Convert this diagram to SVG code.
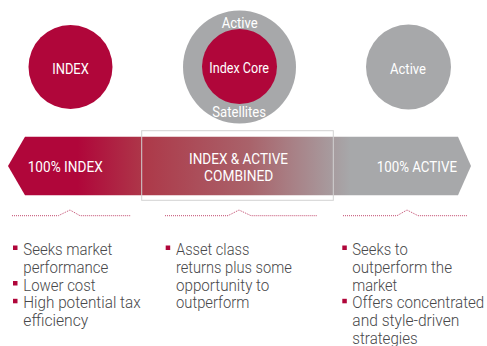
<svg xmlns="http://www.w3.org/2000/svg" width="487" height="346" viewBox="0 0 487 346">
<defs>
<linearGradient id="band" x1="8" y1="0" x2="471" y2="0" gradientUnits="userSpaceOnUse">
<stop offset="0" stop-color="#B0063A"/>
<stop offset="0.15" stop-color="#B0063A"/>
<stop offset="0.3" stop-color="#AD3A4A"/>
<stop offset="0.52" stop-color="#A9626A"/>
<stop offset="0.74" stop-color="#A7A8AA"/>
<stop offset="1" stop-color="#A7A8AA"/>
</linearGradient>
<style>
.red{fill:#B0063A}
.gray{fill:#A7A8AA}
.lbl{font-family:Roboto,"Liberation Sans",sans-serif;fill:#ffffff}
.body{font-family:Roboto,"Liberation Sans",sans-serif;font-size:16.5px;font-weight:300;fill:#48484A}
.dot{fill:none;stroke:#C24A6E;stroke-width:1;stroke-dasharray:1 1}
.sq{fill:#B0063A}
</style>
</defs>

<g id="node-index">
<circle class="red" cx="70.5" cy="67" r="42"/>
<text class="lbl" x="70.5" y="74" font-size="15" text-anchor="middle" textLength="36.7" lengthAdjust="spacingAndGlyphs">INDEX</text>
</g>

<g id="node-core-satellite">
<circle class="gray" cx="239.5" cy="67" r="56.5"/>
<circle class="red" cx="239.5" cy="66.5" r="37.5"/>
<text class="lbl" x="239.7" y="28.3" font-size="14" text-anchor="middle" textLength="36" lengthAdjust="spacingAndGlyphs">Active</text>
<text class="lbl" x="239.2" y="73.3" font-size="14" text-anchor="middle" textLength="59.7" lengthAdjust="spacingAndGlyphs">Index Core</text>
<text class="lbl" x="239.2" y="117" font-size="14" text-anchor="middle" textLength="53.7" lengthAdjust="spacingAndGlyphs">Satellites</text>
</g>

<g id="node-active">
<circle class="gray" cx="408.5" cy="67" r="42.5"/>
<text class="lbl" x="408" y="74" font-size="15" text-anchor="middle" textLength="36" lengthAdjust="spacingAndGlyphs">Active</text>
</g>

<g id="band-spectrum">
<polygon points="8,166 25,136.7 458,136.7 471,166 458,195.3 25,195.3" fill="url(#band)"/>
<rect x="141.7" y="130.7" width="191.6" height="69.6" fill="none" stroke="#D2D2D2" stroke-width="1"/>
<text class="lbl" x="27.7" y="171.7" font-size="15" textLength="75" lengthAdjust="spacingAndGlyphs">100% INDEX</text>
<text class="lbl" x="238.5" y="164.3" font-size="15" text-anchor="middle" textLength="99" lengthAdjust="spacingAndGlyphs">INDEX &amp; ACTIVE</text>
<text class="lbl" x="238.7" y="180.7" font-size="15" text-anchor="middle" textLength="69.3" lengthAdjust="spacingAndGlyphs">COMBINED</text>
<text class="lbl" x="376.7" y="171.7" font-size="15" textLength="80.3" lengthAdjust="spacingAndGlyphs">100% ACTIVE</text>
</g>

<g id="connectors">
<polyline class="dot" points="12,215.7 58.3,215.7 70,210 80,215.7 131,215.7"/>
<polyline class="dot" points="165,215.7 228,215.7 239,210 251,215.7 317,215.7"/>
<polyline class="dot" points="343,215.7 397,215.7 407,210 418,215.7 467,215.7"/>
</g>

<g id="list-index">
<rect class="sq" x="13" y="245.5" width="4.5" height="4.5"/>
<rect class="sq" x="13" y="281" width="4.5" height="4.5"/>
<rect class="sq" x="13" y="298.8" width="4.5" height="4.5"/>
<text class="body" x="23.3" y="255" textLength="89" lengthAdjust="spacingAndGlyphs">Seeks market</text>
<text class="body" x="23.3" y="272.8" textLength="85" lengthAdjust="spacingAndGlyphs">performance</text>
<text class="body" x="23.3" y="290.6" textLength="72.3" lengthAdjust="spacingAndGlyphs">Lower cost</text>
<text class="body" x="23.3" y="308.4" textLength="117.3" lengthAdjust="spacingAndGlyphs">High potential tax</text>
<text class="body" x="23.3" y="326.2" textLength="65" lengthAdjust="spacingAndGlyphs">efficiency</text>
</g>

<g id="list-combined">
<rect class="sq" x="165.7" y="245.5" width="4.5" height="4.5"/>
<text class="body" x="176" y="255" textLength="73.3" lengthAdjust="spacingAndGlyphs">Asset class</text>
<text class="body" x="176" y="272.8" textLength="115.7" lengthAdjust="spacingAndGlyphs">returns plus some</text>
<text class="body" x="176" y="290.6" textLength="93.3" lengthAdjust="spacingAndGlyphs">opportunity to</text>
<text class="body" x="176" y="308.4" textLength="73.3" lengthAdjust="spacingAndGlyphs">outperform</text>
</g>

<g id="list-active">
<rect class="sq" x="342.3" y="245.5" width="4.5" height="4.5"/>
<rect class="sq" x="342.3" y="298.8" width="4.5" height="4.5"/>
<text class="body" x="352.3" y="255" textLength="55.4" lengthAdjust="spacingAndGlyphs">Seeks to</text>
<text class="body" x="352.3" y="272.8" textLength="99.7" lengthAdjust="spacingAndGlyphs">outperform the</text>
<text class="body" x="352.3" y="290.6" textLength="45" lengthAdjust="spacingAndGlyphs">market</text>
<text class="body" x="352.3" y="308.4" textLength="132" lengthAdjust="spacingAndGlyphs">Offers concentrated</text>
<text class="body" x="352.3" y="326.2" textLength="107" lengthAdjust="spacingAndGlyphs">and style-driven</text>
<text class="body" x="352.3" y="344" textLength="65.4" lengthAdjust="spacingAndGlyphs">strategies</text>
</g>
</svg>
